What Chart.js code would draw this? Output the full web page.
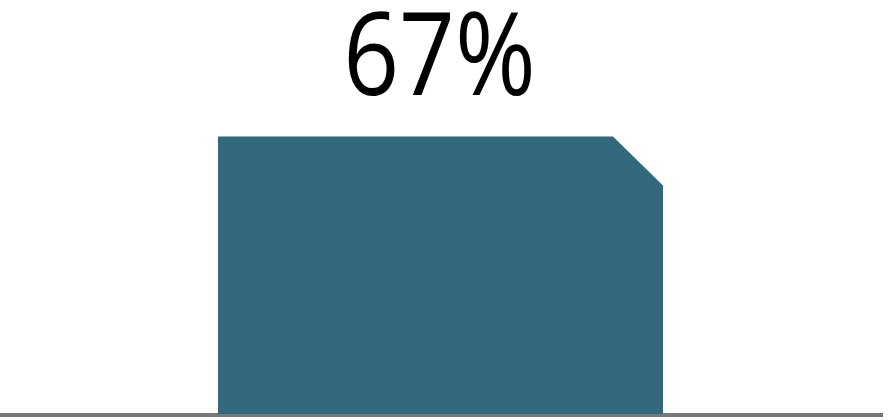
<!DOCTYPE html>
<html>
<head>
<meta charset="utf-8">
<script src="https://cdn.jsdelivr.net/npm/chart.js@4"></script>
<style>
  html, body { margin: 0; padding: 0; background: #fff; }
  #wrap { width: 888px; height: 420px; position: relative; }
</style>
</head>
<body>
<div id="wrap"><canvas id="c"></canvas></div>
<script>
const categories = ["Share"];
const values = [67];
const valueLabels = ["67%"];

const barColor = "#34687d";
const axisColor = "#787878";

const clippedBars = {
  id: "clippedBars",
  beforeDatasetsDraw(chart) {
    const ctx = chart.ctx;
    const a = chart.chartArea;
    ctx.save();
    ctx.fillStyle = axisColor;
    ctx.fillRect(a.left, a.bottom - 1, a.right - a.left + 2, 4);
    ctx.restore();
  },
  afterDatasetsDraw(chart) {
    const ctx = chart.ctx;
    const meta = chart.getDatasetMeta(0);
    meta.data.forEach((bar, i) => {
      const p = bar.getProps(["x", "y", "base", "width"], true);
      const l = p.x - p.width / 2, r = p.x + p.width / 2;
      const cut = 50;
      ctx.save();
      ctx.fillStyle = barColor;
      ctx.beginPath();
      ctx.moveTo(l, p.base);
      ctx.lineTo(l, p.y);
      ctx.lineTo(r - cut, p.y);
      ctx.lineTo(r, p.y + cut - 1);
      ctx.lineTo(r, p.base);
      ctx.closePath();
      ctx.fill();
      ctx.fillStyle = "#000";
      ctx.font = '115px "Open Sans", "Noto Sans", sans-serif';
      ctx.textAlign = "center";
      ctx.textBaseline = "alphabetic";
      ctx.translate(p.x - 1, p.y - 42);
      ctx.scale(0.85, 1);
      ctx.fillText(valueLabels[i], 0, 0);
      ctx.restore();
    });
  }
};

new Chart(document.getElementById("c"), {
  type: "bar",
  data: {
    labels: categories,
    datasets: [{
      data: values,
      backgroundColor: "rgba(0,0,0,0)",
      borderWidth: 0,
      barPercentage: 0.5051,
      categoryPercentage: 1
    }]
  },
  options: {
    responsive: true,
    maintainAspectRatio: false,
    animation: false,
    events: [],
    layout: { padding: { left: 0, right: 7, top: 0, bottom: 6 } },
    plugins: { legend: { display: false }, tooltip: { enabled: false } },
    scales: {
      x: { display: false },
      y: { display: false, min: 0, max: 100 }
    }
  },
  plugins: [clippedBars]
});
</script>
</body>
</html>
